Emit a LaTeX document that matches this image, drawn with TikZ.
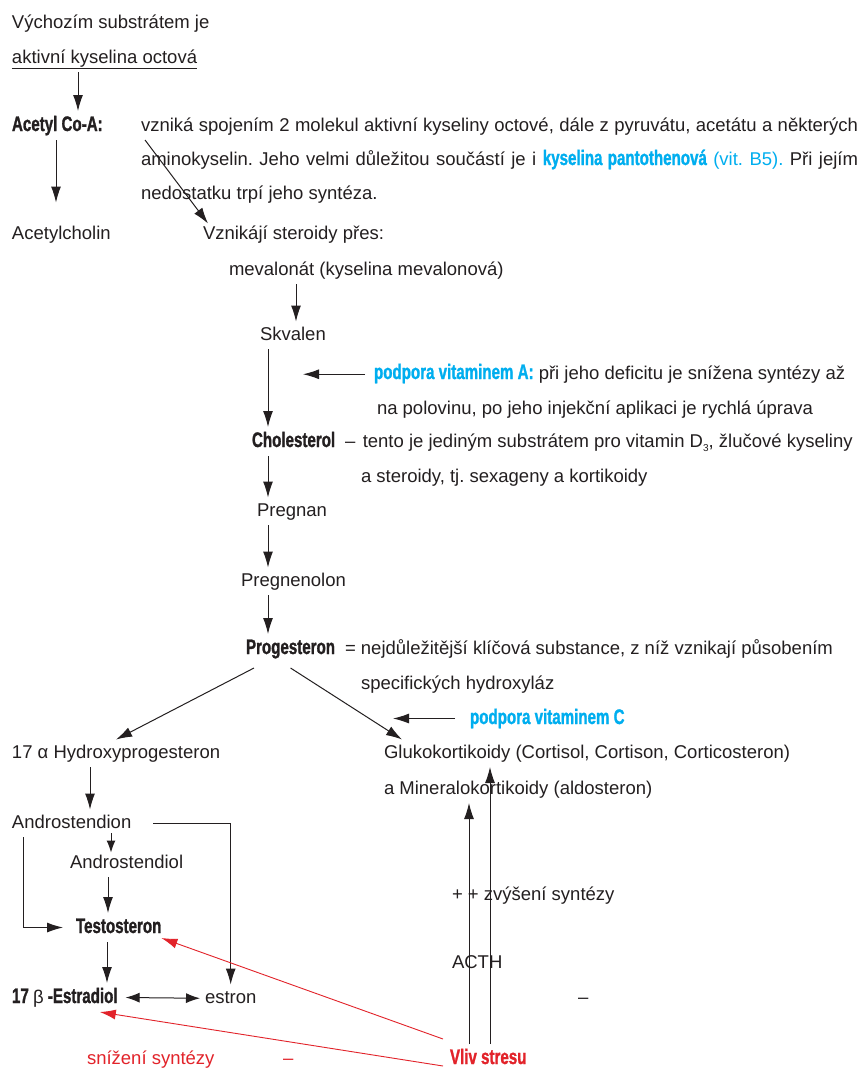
\documentclass[tikz,border=0pt]{standalone}
\usepackage{fontspec}
\setmainfont{Liberation Sans}
\newfontfamily\heavy{Liberation Sans}[FakeStretch=0.72, FakeBold=1.2]
\usetikzlibrary{arrows.meta}
\definecolor{ink}{RGB}{35,31,32}
\definecolor{vitcyan}{RGB}{0,174,239}
\definecolor{stressred}{RGB}{226,35,42}
\newcommand{\hv}[1]{{\fontsize{21}{22}\heavy\bfseries #1}}
\frenchspacing

\begin{document}
\begin{tikzpicture}[x=1pt, y=-1pt,
    txt/.style = {anchor=base west, inner sep=0pt, outer xsep=0pt, outer ysep=5pt, text height=13.5pt, text depth=4pt, text=ink, font=\fontsize{18.5}{20}\selectfont},
    hvy/.style = {txt, text height=15pt, font=\fontsize{21}{22}\heavy\bfseries},
    arrow/.style = {draw=ink, line width=1pt, -{Latex[length=16pt,width=10pt]}},
    dblarrow/.style = {arrow, {Latex[length=14pt,width=10pt]}-{Latex[length=14pt,width=10pt]}},
    redarrow/.style = {draw=stressred, line width=0.9pt, -{Latex[length=16pt,width=10pt]}}
]
    \path[use as bounding box, fill=white] (0,0) rectangle (861,1068);

    % columns of the vertical arrows
    \coordinate (colA) at (78,0);
    \coordinate (colB) at (56,0);
    \coordinate (colM) at (296,0);
    \coordinate (spine) at (268,0);
    \coordinate (colH) at (90,0);
    \coordinate (colD) at (111,0);
    \coordinate (colT) at (108,0);
    \coordinate (colE) at (107,0);
    \coordinate (colL) at (469,0);
    \coordinate (colR) at (490,0);
    \coordinate (ahit) at (303,0);
    \coordinate (chit) at (393,0);

    \node[txt] (vych) at (12,28) {Výchozím substrátem je};
    \node[txt] (aktiv) at (12,63) {\underline{aktivní kyselina octová}};
    \node[hvy] (acetyl) at (12,131) {Acetyl Co-A:};
    \node[txt] (vzn1) at (141,131) {\makebox[717pt][s]{vzniká spojením 2 molekul aktivní kyseliny octové, dále z pyruvátu, acetátu a některých}};
    \node[txt] (vzn2) at (141,165) {\makebox[717pt][s]{aminokyselin. Jeho velmi důležitou součástí je i {\color{vitcyan}\hv{kyselina pantothenová} (vit. B5).} Při jejím}};
    \node[txt] (vzn3) at (141,199) {nedostatku trpí jeho syntéza.};
    \node[txt] (achol) at (12,239) {Acetylcholin};
    \node[txt] (vzn) at (203,239) {Vznikájí steroidy přes:};
    \node[txt] (mev) at (229,275) {mevalonát (kyselina mevalonová)};
    \node[txt] (skv) at (260,340) {Skvalen};
    \node[txt] (podA) at (374,379) {{\color{vitcyan}\hv{podpora vitaminem A:}} při jeho deficitu je snížena syntézy až};
    \node[txt] (napol) at (377,414) {na polovinu, po jeho injekční aplikaci je rychlá úprava};
    \node[hvy] (chol) at (252,447) {Cholesterol};
    \node[txt] (cholnote) at (345,447) {–\hspace{7.5pt}tento je jediným substrátem pro vitamin D\raisebox{-4pt}{\fontsize{10}{10}\selectfont 3}, žlučové kyseliny};
    \node[txt] (aster) at (361,482) {a steroidy, tj. sexageny a kortikoidy};
    \node[txt] (pregnan) at (257,516) {Pregnan};
    \node[txt] (pregnen) at (241,586) {Pregnenolon};
    \node[hvy] (prog) at (246,654) {Progesteron};
    \node[txt] (prognote) at (345,654) {= nejdůležitější klíčová substance, z níž vznikají působením};
    \node[txt] (spec) at (361,689) {specifických hydroxyláz};
    \node[hvy, text=vitcyan] (podC) at (470,724) {podpora vitaminem C};
    \node[txt] (h17) at (12,758) {17 α Hydroxyprogesteron};
    \node[txt] (gluko) at (384,758) {Glukokortikoidy (Cortisol, Cortison, Corticosteron)};
    \node[txt] (miner) at (384,794) {a Mineralokortikoidy (aldosteron)};
    \node[txt] (andion) at (12,828) {Androstendion};
    \node[txt] (andiol) at (70,868) {Androstendiol};
    \node[txt] (plus) at (452,900) {+ + zvýšení syntézy};
    \node[hvy] (testo) at (76,933) {Testosteron};
    \node[txt] (acth) at (452,968) {ACTH};
    \node[hvy] (estr) at (12,1003) {17 {\normalfont\fontsize{18.5}{20}\selectfont β} -Estradiol};
    \node[txt] (estron) at (205,1003) {estron};
    \node[txt] (dash) at (578,1003) {–};
    \node[txt, text=stressred] (sniz) at (87,1064) {snížení syntézy};
    \node[txt, text=stressred] (rdash) at (283,1064) {–};
    \node[hvy, text=stressred] (vliv) at (450,1064) {Vliv stresu};

    \path[arrow] (colA |- aktiv.south) -- (colA |- acetyl.north);
    \path[arrow, shorten >=18pt] (colB |- acetyl.south) -- (colB |- achol.north);
    \path[arrow] ([xshift=4pt]vzn1.south west) -- ([xshift=5pt,yshift=-3pt]vzn.north west);
    \path[arrow] (colM |- mev.south) -- (colM |- skv.north);
    \path[arrow] (spine |- skv.south) -- (spine |- chol.north);
    \path[arrow, shorten <=9pt] (podA.west) -- (ahit |- podA.west);
    \path[arrow] (spine |- chol.south) -- (spine |- pregnan.north);
    \path[arrow] (spine |- pregnan.south) -- (spine |- pregnen.north);
    \path[arrow] (spine |- pregnen.south) -- (spine |- prog.north);
    \path[arrow] ([xshift=8pt,yshift=-5pt]prog.south west) -- (h17.north);
    \path[arrow] ([yshift=-5pt]prog.south) -- ([xshift=18pt]gluko.north west);
    \path[arrow, shorten <=15pt] (podC.west) -- (chit |- podC.west);
    \path[arrow] (colH |- h17.south) -- (colH |- andion.north);
    \path[arrow, -{Latex[length=12pt,width=9pt]}, shorten <=-4pt, shorten >=-3pt] (colD |- andion.south) -- (colD |- andiol.north);
    \path[arrow] (colT |- andiol.south) -- (colT |- testo.north);
    \path[arrow] ([xshift=11pt]andion.south west) |- ([xshift=-13pt]testo.west);
    \path[arrow] ([xshift=22pt]andion.east) -| (estron.north);
    \path[arrow] (colE |- testo.south) -- (colE |- estr.north);
    \path[dblarrow] ([xshift=8pt]estr.east) -- ([xshift=-5pt]estron.west);
    \path[arrow] (colL |- vliv.north) -- (colL |- miner.south);
    \path[arrow] (colR |- vliv.north) -- (colR |- gluko.south);
    \path[redarrow] ([xshift=-7pt,yshift=5pt]vliv.north west) -- ([yshift=4pt]testo.south east);
    \path[redarrow] ([xshift=-7pt,yshift=-2pt]vliv.base west) -- ([xshift=35pt]estr.south);
\end{tikzpicture}
\end{document}
